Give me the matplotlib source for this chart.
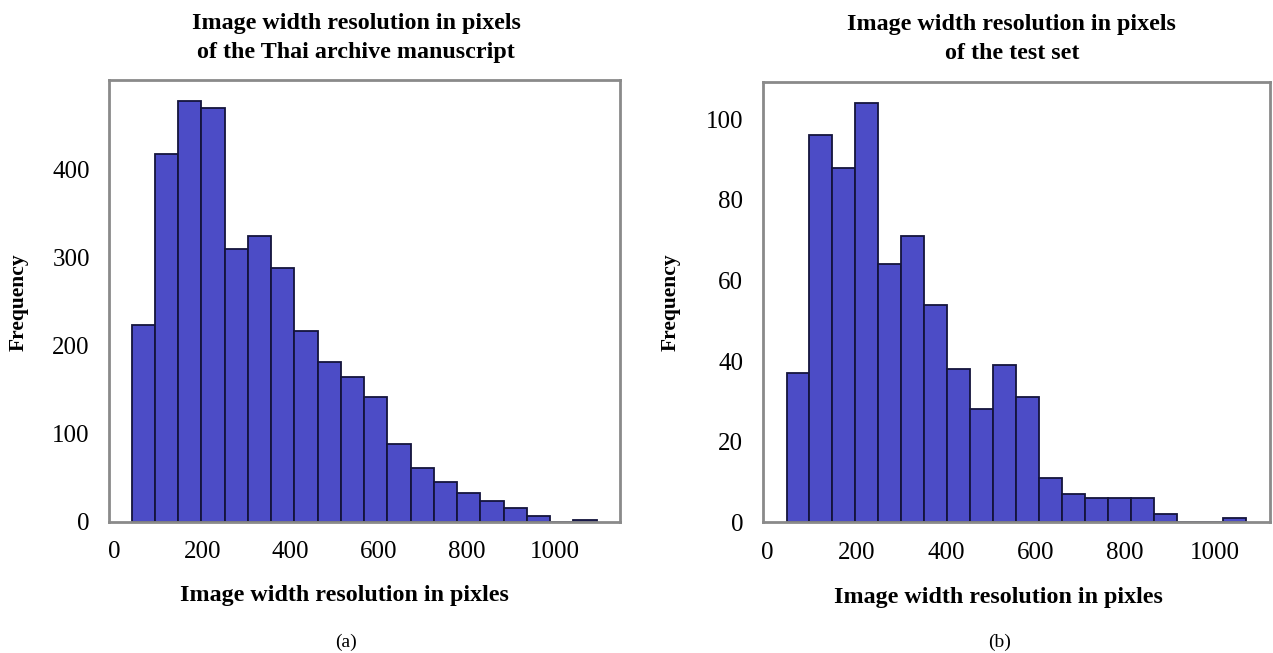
import numpy as np
import matplotlib
matplotlib.use("Agg")
import matplotlib.pyplot as plt

# bin counts (20 bins each)
thai_counts = [223, 418, 478, 470, 310, 325, 288, 217, 181, 164,
               142, 88, 61, 45, 33, 24, 16, 6, 0, 2]
test_counts = [37, 96, 88, 104, 64, 71, 54, 38, 28, 39,
               31, 11, 7, 6, 6, 6, 2, 0, 0, 1]

# min / max width of each set (histogram range)
thai_range = (39.5, 1096)
test_range = (43, 1070)

x_ticks = [0, 200, 400, 600, 800, 1000]
thai_yticks = [0, 100, 200, 300, 400]
test_yticks = [0, 20, 40, 60, 80, 100]

titles = ["Image width resolution in pixels\nof the Thai archive manuscript",
          "Image width resolution in pixels\nof the test set"]
xlabel = "Image width resolution in pixles"
ylabel = "Frequency"
panel_tags = ["(a)", "(b)"]

plt.rcParams['font.family'] = ['Liberation Serif', 'DejaVu Serif']

BAR = "#4c4cc6"
EDGE = "#14143c"
SPINE = "#8a8a8a"

fig = plt.figure(figsize=(12.73, 6.53), dpi=100)
W, H = 1273, 653


def px_axes(x0, y0, x1, y1):
    return fig.add_axes([x0 / W, 1 - y1 / H, (x1 - x0) / W, (y1 - y0) / H])


def draw_hist(ax, counts, rng, yticks, xlim, ylim):
    edges = np.linspace(rng[0], rng[1], len(counts) + 1)
    ax.bar(edges[:-1], counts, width=np.diff(edges), align='edge',
           color=BAR, edgecolor=EDGE, linewidth=1.3)
    ax.set_xlim(*xlim)
    ax.set_ylim(*ylim)
    ax.set_xticks(x_ticks)
    ax.set_yticks(yticks)
    ax.tick_params(axis='both', length=0, labelsize=18)
    ax.tick_params(axis='x', pad=14)
    ax.tick_params(axis='y', pad=14)
    for s in ax.spines.values():
        s.set_color(SPINE)
        s.set_linewidth(2)


ax1 = px_axes(109.3, 80, 620, 521.7)
draw_hist(ax1, thai_counts, thai_range, thai_yticks, (-11, 1149), (0, 502))

ax2 = px_axes(762.8, 81.7, 1270, 522.3)
draw_hist(ax2, test_counts, test_range, test_yticks, (-10, 1124), (0, 109.3))

# titles, axis labels and panel tags
fig.text(356 / W, 1 - 38 / H, titles[0], ha='center', va='center',
         fontsize=17.3, fontweight='bold', linespacing=1.5)
fig.text(1011.7 / W, 1 - 39 / H, titles[1], ha='center', va='center',
         fontsize=17.3, fontweight='bold', linespacing=1.5)

fig.text(344 / W, 1 - 595 / H, xlabel, ha='center', va='center',
         fontsize=17.3, fontweight='bold')
fig.text(998.6 / W, 1 - 597 / H, xlabel, ha='center', va='center',
         fontsize=17.3, fontweight='bold')

fig.text(19 / W, 1 - 302 / H, ylabel, ha='center', va='center',
         rotation=90, fontsize=15.5, fontweight='bold')
fig.text(671 / W, 1 - 302 / H, ylabel, ha='center', va='center',
         rotation=90, fontsize=15.5, fontweight='bold')

fig.text(346 / W, 1 - 642 / H, panel_tags[0], ha='center', va='center',
         fontsize=14)
fig.text(1000 / W, 1 - 642 / H, panel_tags[1], ha='center', va='center',
         fontsize=14)

fig.savefig("out.png", dpi=100)
